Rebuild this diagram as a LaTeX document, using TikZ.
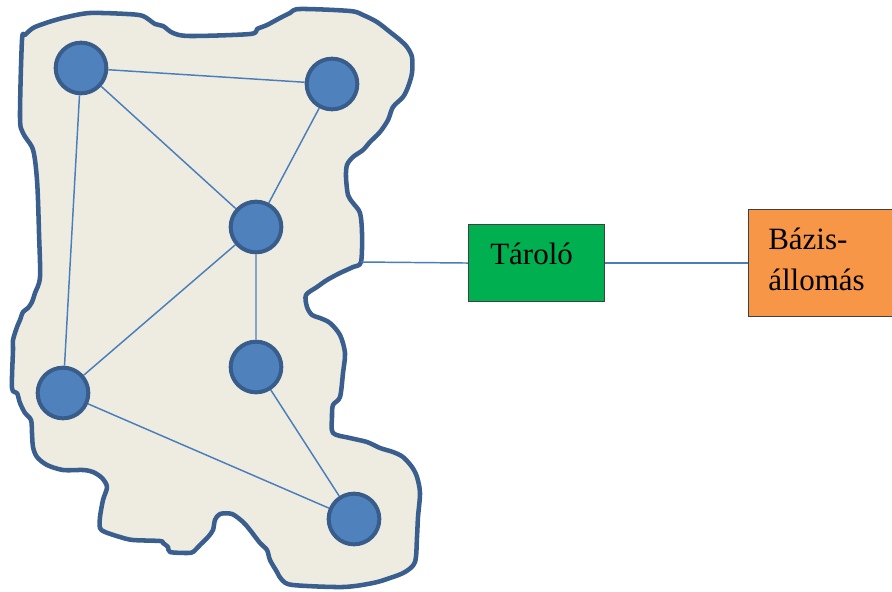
\documentclass[tikz,border=0pt]{standalone}
\usepackage{fontspec}
\setmainfont{Liberation Serif}
\definecolor{blobfill}{HTML}{EEECE1}
\definecolor{blobline}{HTML}{3A5F8E}
\definecolor{nodefill}{HTML}{4F81BD}
\definecolor{nodeline}{HTML}{385D8A}
\definecolor{linkcol}{HTML}{4A7EBB}
\definecolor{storefill}{HTML}{00B050}
\definecolor{basefill}{HTML}{F79646}
\definecolor{boxline}{HTML}{404040}
\begin{document}
\begin{tikzpicture}[x=0.75pt,y=-0.75pt,
  sensor/.style={circle,draw=nodeline,fill=nodefill,line width=3pt,minimum size=38pt,inner sep=0pt},
  link/.style={draw=linkcol,line width=1.1pt},
  boxnode/.style={rectangle,draw=boxline,line width=0.8pt,inner sep=0pt,anchor=north west},
  lbl/.style={anchor=base west,inner sep=0pt,font=\fontsize{23.25}{30.75}\selectfont}]
\useasboundingbox (0,0) rectangle (892,592);

% sensor field outline
\draw[blobline,fill=blobfill,line width=3.4pt,line join=round]
  plot[smooth cycle,tension=0.5] coordinates {
  (22,40) (25,35) (33,28) (43,24) (52,21) (67,17) (90,13) (127,14) (143,16)
  (155,24) (163,26) (173,33) (190,36) (250,34) (257,29) (267,25) (280,18)
  (290,13) (300,9) (350,11) (363,15) (377,22) (390,32) (400,40) (407,47)
  (412,57) (412,73) (408,87) (403,97) (393,107) (388,120) (380,132) (370,142)
  (363,150) (353,157) (347,165) (346,177) (348,195) (353,203) (360,213)
  (362,233) (361,262) (353,267) (340,273) (327,280) (317,287) (306,295)
  (307,307) (312,315) (320,318) (330,323) (340,335) (345,353) (343,373)
  (340,397) (333,405) (332,417) (333,433) (350,438) (367,442) (380,448)
  (393,452) (403,457) (412,467) (417,477) (420,493) (418,517) (417,537)
  (415,562) (405,572) (390,578) (373,583) (343,587) (293,585) (282,580)
  (277,572) (270,560) (267,550) (260,543) (250,530) (243,522) (232,514)
  (220,514) (215,520) (213,530) (208,537) (200,545) (193,552) (187,553)
  (170,552) (168,547) (163,543) (160,541) (133,540) (120,537) (105,532)
  (100,528) (100,517) (103,500) (107,487) (102,478) (93,472) (83,470)
  (63,470) (47,465) (37,457) (33,447) (32,433) (31,420) (25,413) (20,403)
  (17,393) (12,388) (13,350) (13,340) (17,327) (20,320) (23,312) (28,308)
  (32,302) (35,293) (40,277) (39,233) (38,200) (37,180) (35,160) (32,147)
  (23,133) (20,117)};

% sensors
\node[sensor] (s1) at (81,68) {};
\node[sensor] (s2) at (332,84) {};
\node[sensor] (s3) at (256,227) {};
\node[sensor] (s4) at (256,367) {};
\node[sensor] (s5) at (63,393) {};
\node[sensor] (s6) at (354,519) {};

\path[link] (s1) -- (s2) (s1) -- (s3) (s1) -- (s5) (s2) -- (s3)
  (s3) -- (s5) (s3) -- (s4) (s4) -- (s6) (s5) -- (s6);

% storage and base station
\node[boxnode,fill=storefill,minimum width=102pt,minimum height=57.75pt] (store) at (468,224) {};
\node[boxnode,fill=basefill,minimum width=108pt,minimum height=80.25pt] (base) at (748,209) {};
\node[lbl] (storetxt) at (490,264) {Tároló};
\node[lbl] (basetxt1) at (768,249) {Bázis-};
\node[lbl] (basetxt2) at (768,290) {állomás};

\coordinate (port) at (361,262);
\path[link] (port) -- (store.west);
\path[link] (store.east) -- (base.west |- store.east);
\end{tikzpicture}
\end{document}
